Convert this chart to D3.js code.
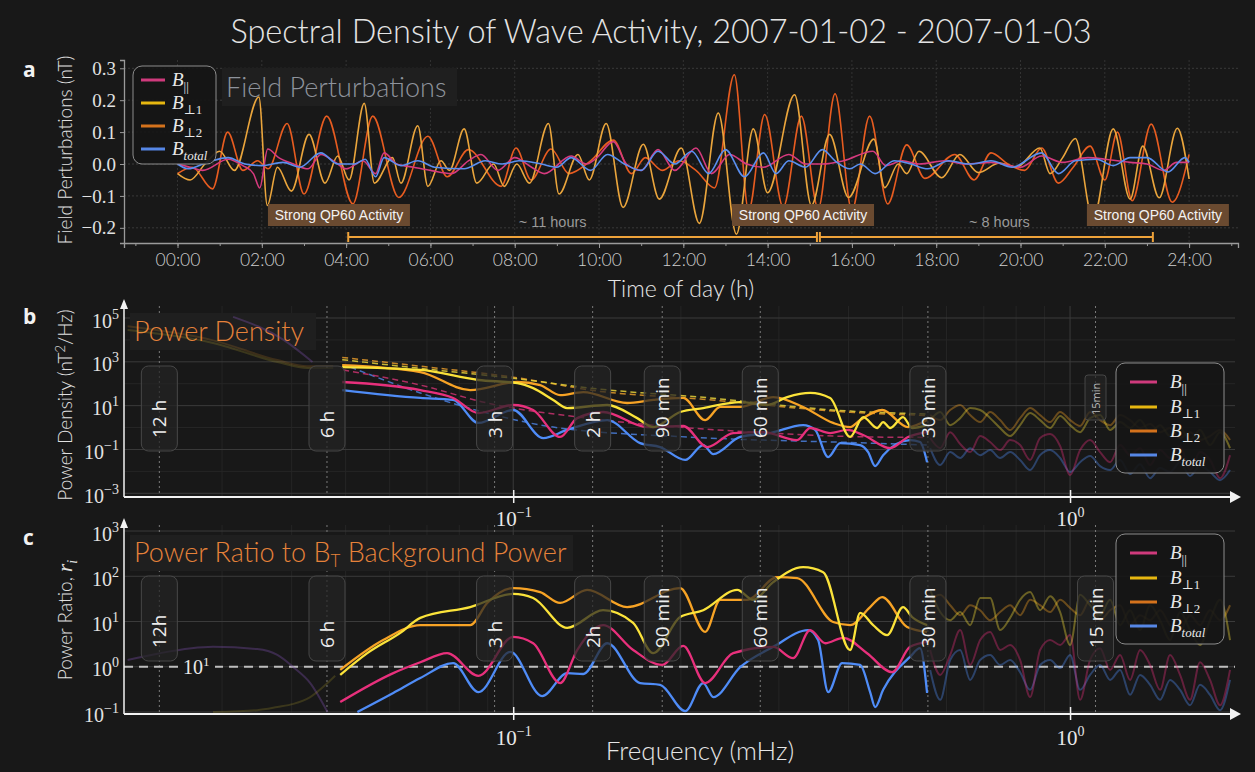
<!DOCTYPE html>
<html>
<head>
<meta charset="utf-8">
<script src="https://cdn.jsdelivr.net/npm/d3@7"></script>
<style>
  html, body { margin: 0; background: #181818; }
  svg { display: block; }
</style>
</head>
<body>
<svg id="chart" width="1255" height="772"></svg>
<script>
// ---------------- data ----------------
const titleText = "Spectral Density of Wave Activity, 2007-01-02 - 2007-01-03";
const seriesNames = ["par", "perp1", "perp2", "total"];

// Panel a: field perturbations (nT) vs hour of day, [hour, value]
const parTS = [[0,0.0],[0.3,-0.01],[0.6,-0.02],[1.2,0.015],[1.55,-0.005],[1.8,-0.03],[1.95,-0.075],[2.14,0.047],[2.4,0.02],[2.75,0.0],[3.1,-0.015],[3.4,0.03],[3.75,0.005],[4.0,-0.015],[4.4,0.01],[4.7,-0.03],[4.9,0.035],[5.2,0.0],[5.6,-0.01],[6.0,-0.02],[6.5,-0.03],[6.9,0.01],[7.2,0.03],[7.6,-0.02],[8.0,0.02],[8.4,-0.01],[8.7,-0.03],[9.34,0.025],[9.7,0.0],[9.95,0.02],[10.34,0.07],[10.65,0.0],[11.0,-0.02],[11.4,0.045],[11.8,-0.02],[12.3,0.05],[12.67,-0.03],[13.1,0.03],[13.5,0.0],[13.9,-0.01],[14.5,0.03],[14.9,0.0],[15.3,0.0],[15.8,0.01],[16.5,0.04],[16.8,-0.005],[17.2,0.01],[17.6,0.0],[18.2,0.01],[18.7,0.0],[19.3,0.005],[20.0,-0.01],[20.5,0.025],[21.0,0.005],[21.6,0.02],[22.0,0.015],[22.6,0.005],[23.0,0.0],[23.4,-0.02],[23.7,0.005],[24.0,0.005]];
const perp1TS = [[0,-0.03],[0.3,-0.05],[0.65,0.0],[1.0,0.04],[1.35,-0.02],[1.93,0.21],[2.13,-0.13],[2.37,-0.01],[2.7,-0.085],[3.12,0.093],[3.5,-0.06],[3.8,0.025],[4.07,-0.05],[4.43,0.19],[4.67,-0.06],[5.1,0.02],[5.3,-0.06],[5.7,0.12],[5.94,-0.07],[6.25,0.01],[6.45,-0.02],[6.8,0.11],[7.1,-0.06],[7.5,0.0],[7.75,-0.07],[8.05,0.0],[8.35,-0.06],[8.8,0.127],[9.05,-0.094],[9.5,0.03],[9.77,-0.05],[10.17,0.127],[10.57,-0.136],[11.05,0.062],[11.43,-0.11],[11.95,0.05],[12.38,-0.186],[12.83,0.16],[13.26,-0.22],[13.66,0.11],[14.0,-0.09],[14.64,0.217],[15.04,-0.13],[15.47,0.093],[15.92,-0.105],[16.52,0.078],[16.78,-0.074],[17.1,0.0],[17.3,-0.03],[17.59,0.04],[18.13,-0.043],[18.56,0.03],[19.0,-0.027],[19.5,0.003],[19.9,-0.01],[20.46,0.05],[20.7,-0.03],[21.0,0.02],[21.3,0.08],[21.72,-0.174],[22.2,0.11],[22.6,-0.11],[22.9,0.056],[23.29,-0.106],[23.72,0.112],[24.0,-0.047]];
const perp2TS = [[0,-0.03],[0.35,-0.01],[0.83,-0.078],[1.19,0.1],[1.55,-0.02],[1.9,0.01],[2.15,-0.015],[2.6,0.127],[3.0,-0.094],[3.54,0.15],[4.16,-0.125],[4.63,0.15],[5.25,-0.105],[5.94,0.087],[6.4,-0.04],[6.9,0.045],[7.68,-0.07],[8.03,0.05],[8.39,-0.05],[8.86,0.047],[9.29,-0.03],[9.8,0.01],[10.34,0.075],[10.77,-0.03],[11.1,0.02],[11.5,-0.02],[11.9,0.01],[12.3,-0.02],[12.74,-0.075],[13.21,0.28],[13.55,-0.145],[13.93,0.155],[14.37,-0.135],[14.8,0.15],[15.2,-0.14],[15.6,0.22],[16.0,-0.145],[16.42,0.15],[16.85,-0.125],[17.3,0.06],[17.73,-0.045],[18.44,0.03],[18.9,-0.05],[19.3,0.035],[19.7,0.0],[20.1,-0.02],[20.5,0.05],[20.9,-0.06],[21.25,-0.01],[21.65,0.056],[22.0,-0.05],[22.3,0.1],[22.65,-0.115],[23.1,0.125],[23.6,-0.12],[24.0,0.03]];
const totalTS = [[0,0.0],[0.25,-0.015],[0.7,0.005],[1.2,0.02],[1.6,0.0],[2.0,-0.005],[2.5,0.005],[2.9,-0.01],[3.4,0.035],[3.8,0.0],[4.2,0.0],[4.45,0.015],[4.7,-0.04],[4.9,0.02],[5.3,-0.005],[5.7,0.01],[6.1,-0.01],[6.8,-0.015],[7.3,0.01],[7.7,0.0],[8.1,0.01],[8.63,0.0],[9.0,-0.01],[9.34,0.02],[9.8,-0.02],[10.2,0.03],[10.6,0.0],[11.0,-0.02],[11.4,0.04],[11.8,0.0],[12.2,0.04],[12.6,-0.03],[13.0,0.045],[13.45,-0.04],[13.9,0.035],[14.2,-0.03],[14.5,0.01],[14.9,-0.01],[15.3,0.045],[15.6,0.01],[15.95,-0.015],[16.2,0.0],[16.55,-0.03],[17.0,0.01],[17.4,0.0],[17.8,-0.015],[18.3,0.01],[18.8,0.0],[19.3,0.01],[19.8,-0.01],[20.5,0.035],[20.9,-0.03],[21.3,0.01],[21.8,0.015],[22.2,-0.005],[22.6,0.02],[23.0,0.02],[23.5,-0.025],[23.9,0.02],[24.0,0.005]];

const aYTicks = [-0.2, -0.1, 0.0, 0.1, 0.2, 0.3];
const aXTicks = [0, 2, 4, 6, 8, 10, 12, 14, 16, 18, 20, 22, 24];
// QP60 activity annotations (hours)
const qpBoxCenters = [3.83, 14.84, 23.26];
const spanBreaks = [4.05, 15.17, 15.24, 23.14];
const spanLabels = [{h: 8.9, text: "~ 11 hours"}, {h: 19.5, text: "~ 8 hours"}];

// Panel b: power density (nT^2/Hz), frequency in mHz, log10 power
const bParF   = [0.0493,0.0681,0.0780,0.0866,0.1000,0.1086,0.1214,0.1303,0.1450,0.1740,0.2020,0.2231,0.2483,0.2811,0.3235,0.3414,0.3708,0.3978,0.4250,0.4753,0.5118,0.5537];
const bParL   = [2.08,1.71,1.35,0.66,1.03,0.80,-0.43,0.43,0.71,0.02,0.07,-0.89,-0.25,-0.21,-0.57,-0.02,-0.25,-0.11,-0.34,-0.94,-0.43,-0.21];
const bPerp1F = [0.0493,0.0681,0.0866,0.1017,0.1086,0.1180,0.1250,0.1475,0.1670,0.1784,0.1994,0.2194,0.2556,0.2858,0.3104,0.3414,0.3708,0.4027,0.4250,0.4504,0.4617,0.4753,0.5013,0.5203,0.5537];
const bPerp1L = [2.76,2.63,2.17,2.03,1.80,1.26,0.89,1.03,0.43,0.02,0.71,0.89,1.16,1.03,1.39,1.58,1.35,-0.43,0.48,-0.02,0.25,-0.02,0.48,-0.02,0.11];
const bPerp2F = [0.0493,0.0681,0.0837,0.1017,0.1118,0.1214,0.1336,0.1602,0.1784,0.2020,0.2212,0.2353,0.2556,0.2930,0.3316,0.3754,0.4027,0.4198,0.4598,0.5118,0.5537];
const bPerp2L = [2.85,2.53,1.71,2.08,1.94,1.48,1.62,1.12,1.26,1.35,0.34,0.94,0.94,1.39,0.94,0.21,0.02,0.34,0.80,0.02,0.34];
const bTotF   = [0.0493,0.0681,0.0780,0.0866,0.1000,0.1132,0.1250,0.1475,0.1690,0.1836,0.2037,0.2194,0.2287,0.2556,0.2894,0.3316,0.3485,0.3678,0.3864,0.4198,0.4339,0.4467,0.4617,0.5160,0.5379,0.5537];
const bTotL   = [1.71,1.35,1.26,0.21,0.80,-0.48,-0.11,0.34,-0.71,-0.89,-1.48,-0.80,-1.21,-0.43,-0.25,0.11,-0.11,-1.35,-0.71,-0.80,-1.12,-1.76,-1.26,-0.57,-0.66,-1.58];

// Background power-law fits (dashed)
const fitPerpF = [0.0493,0.0681,0.1000,0.1433,0.2167,0.4027,0.5537];
const fitPerp1L = [3.10,2.70,2.25,1.75,1.39,0.75,0.62];
const fitPerp2L = [3.20,2.80,2.30,1.65,1.30,0.70,0.55];
const fitParF = [0.0495,0.0681,0.0898,0.1358,0.2697,0.4375,0.5537];
const fitParL = [2.63,1.94,1.12,0.43,-0.21,-0.43,-0.45];
const fitTotF = [0.0510,0.0681,0.0898,0.1180,0.2053,0.4375,0.5537];
const fitTotL = [2.76,1.58,0.66,0.02,-0.43,-0.71,-0.80];

// Out-of-band parts of the spectra (drawn faded)
const lowF_b = [0.0203,0.0289,0.0377,0.0427,0.0475];
const lowPerp1L_b = [4.45,3.86,2.99,2.72,2.72];
const lowPerp2L_b = [4.62,3.98,3.08,2.80,2.80];
const lowParF_b = [0.0314,0.0387,0.0436];
const lowParL_b = [5.05,4.00,2.99];

const highF = [0.5608,0.5845,0.6091,0.6348,0.6616,0.6895,0.7186,0.7489,0.7805,0.8134,0.8477,0.8835,0.9208,0.9597,1.0002,1.0424,1.0864,1.1322,1.1800,1.2298,1.2817,1.3358,1.3922,1.4510,1.5122,1.5760,1.6425,1.7118,1.7840,1.8593,1.9378];
const highPerp1L_b = [0.34,0.71,0.11,0.43,0.89,0.80,0.43,-0.02,-0.39,0.11,0.66,0.34,-0.02,0.53,0.11,-0.21,0.43,0.57,-0.11,0.25,-0.02,0.34,-0.21,0.11,-0.39,-0.02,-0.57,-0.11,-0.80,-0.21,-0.94];
const highPerp2L_b = [0.57,0.34,0.80,1.03,0.57,0.25,0.71,0.34,-0.11,0.43,0.89,0.57,0.25,0.71,0.34,0.07,0.71,0.34,0.11,0.57,0.34,-0.02,0.16,-0.21,-0.02,-0.48,-0.21,-0.57,-0.39,-0.11,-0.57];
const highParL_b   = [-0.48,-0.94,-0.21,-0.75,-1.12,-0.39,-0.66,-1.03,-0.57,-0.80,-1.48,-0.48,-0.30,-0.84,-2.17,-1.03,-0.57,-1.12,-1.58,-0.80,-1.26,-0.94,-1.71,-1.03,-1.39,-0.84,-1.94,-1.12,-1.48,-2.31,-1.26];
const highTotL_b   = [-0.94,-1.71,-1.12,-1.39,-0.94,-1.26,-1.03,-1.39,-1.12,-1.48,-1.94,-1.26,-1.03,-1.39,-2.03,-1.58,-1.30,-1.76,-1.94,-1.48,-2.12,-1.67,-2.31,-1.85,-2.03,-1.58,-2.21,-1.76,-2.03,-2.40,-1.94];

// Panel c: power ratio to B_T background, log10 ratio
const cParF   = [0.0489,0.0609,0.0681,0.0761,0.0866,0.1000,0.1086,0.1214,0.1303,0.1450,0.1642,0.1851,0.2020,0.2212,0.2483,0.2930,0.3182,0.3414,0.3633,0.3913,0.4320,0.4792,0.5160,0.5537];
const cParL   = [-0.78,-0.14,0.10,0.30,-0.20,0.66,0.52,-0.36,0.37,0.92,0.37,0.04,0.46,-0.36,0.30,0.44,0.19,0.81,0.52,0.64,0.30,-0.12,0.44,0.55];
const cPerp1F = [0.0489,0.0547,0.0627,0.0681,0.0837,0.1000,0.1086,0.1250,0.1450,0.1642,0.1784,0.1994,0.2194,0.2525,0.2697,0.2930,0.3316,0.3603,0.4027,0.4198,0.4430,0.4694,0.5013,0.5203,0.5537];
const cPerp1L = [-0.18,0.30,0.75,1.08,1.32,1.61,1.52,0.86,1.25,0.97,0.30,1.10,1.25,1.70,1.48,1.87,2.20,2.09,0.37,1.19,0.92,0.70,1.32,1.10,0.92];
const cPerp2F = [0.0489,0.0584,0.0681,0.0837,0.0898,0.1000,0.1118,0.1214,0.1358,0.1602,0.1994,0.2212,0.2353,0.2631,0.2979,0.3235,0.3754,0.4027,0.4375,0.4598,0.5097,0.5537];
const cPerp2L = [-0.07,0.59,0.92,0.92,1.41,1.74,1.65,1.41,1.70,1.32,1.74,0.77,1.48,1.48,1.98,1.96,0.99,0.92,1.32,1.54,0.88,0.77];
const cTotF   = [0.0525,0.0609,0.0681,0.0780,0.0866,0.0988,0.1127,0.1250,0.1336,0.1475,0.1690,0.1836,0.2037,0.2194,0.2287,0.2556,0.2930,0.3386,0.3528,0.3678,0.3896,0.4198,0.4375,0.4467,0.4617,0.5160,0.5379,0.5537];
const cTotL   = [-1.0,-0.58,-0.25,0.08,-0.56,0.33,-0.65,-0.14,-0.16,0.52,-0.36,-0.40,-0.98,-0.36,-0.67,-0.01,0.44,0.81,0.59,-0.56,0.08,0.04,-0.56,-0.89,-0.51,0.22,0.41,-0.58];

const lowParF_c = [0.0203,0.0232,0.0289,0.0347,0.0377,0.0403,0.0432,0.0464];
const lowParL_c = [0.15,0.30,0.44,0.39,0.26,-0.01,-0.36,-1.0];
const lowPerpF_c = [0.0289,0.0347,0.0377,0.0403,0.0432,0.0464,0.0479];
const lowPerpL_c = [-1.0,-0.96,-0.89,-0.82,-0.67,-0.36,-0.20];

const highPerp1L_c = [1.70,1.21,1.03,1.21,0.92,1.52,1.52,0.81,1.08,1.48,1.65,1.25,1.56,1.21,0.48,1.59,1.36,1.14,1.48,0.92,1.25,0.81,1.36,1.03,0.59,1.21,0.81,0.48,1.03,1.48,0.59];
const highPerp2L_c = [1.48,1.59,1.36,1.14,1.36,1.25,1.03,1.21,1.36,1.14,1.48,1.36,1.21,1.48,1.30,1.14,1.48,1.03,1.25,1.36,0.92,1.14,1.03,1.25,0.92,0.81,1.14,0.92,1.25,1.03,1.36];
const highParL_c   = [0.37,-0.18,0.26,0.81,0.04,0.59,0.77,0.37,0.48,0.15,-0.67,0.37,0.59,0.48,0.70,-0.73,0.15,0.41,-0.07,0.26,-0.29,0.37,0.04,-0.51,0.26,-0.18,-0.73,0.10,-0.29,-0.85,-0.07];
const highTotL_c   = [-0.07,-0.73,0.15,0.37,-0.29,0.15,0.26,0.04,0.15,-0.12,-0.51,0.04,0.15,-0.03,0.26,-0.51,-0.18,0.04,-0.29,-0.07,-0.62,-0.18,-0.40,-0.73,-0.29,-0.51,-0.85,-0.40,-0.62,-0.96,-0.29];

// Reference periods (minutes) marked on the spectra
const periodMinutes = [720, 360, 180, 120, 90, 60, 30, 15];
const periodLabelsB = ["12 h", "6 h", "3 h", "2 h", "90 min", "60 min", "30 min", "15min"];
const periodLabelsC = ["12h", "6 h", "3 h", "2h", "90 min", "60 min", "30 min", "15 min"];
const bYTicks = [1e5, 1e3, 1e1, 1e-1, 1e-3];
const cYTicks = [1e3, 1e2, 1e1, 1e0, 1e-1];
const freqTicks = [0.1, 1];

// ---------------- styling ----------------
const SANS = "Lato, 'Open Sans', 'DejaVu Sans', sans-serif";
const SANS2 = "'Liberation Sans', Arimo, 'DejaVu Sans', sans-serif";
const SERIF = "'Liberation Serif', 'DejaVu Serif', serif";
const colA = {par: "#d63a7e", perp1: "#eaa53c", perp2: "#e75c20", total: "#5a8ff0"};
const colS = {par: "#e8307c", perp1: "#fbe33a", perp2: "#f7a325", total: "#4f8cf7"};
const colLeg = {par: "#cf3a7c", perp1: "#e6b710", perp2: "#d4721c", total: "#5687e6"};
const subText = {par: "||", perp1: "⊥1", perp2: "⊥2", total: "total"};

const svg = d3.select("#chart");
svg.append("rect").attr("width", 1255).attr("height", 772).attr("fill", "#181818");
const defs = svg.append("defs");

svg.append("text").attr("x", 661).attr("y", 43).attr("text-anchor", "middle")
  .attr("font-family", SANS).attr("font-weight", 300).attr("font-size", 32.5)
  .attr("fill", "#e4e4e4").text(titleText);

function panelLetter(t, y) {
  svg.append("text").attr("x", 23).attr("y", y).attr("font-family", "'Open Sans', " + SANS)
    .attr("font-weight", 700).attr("font-size", 21).attr("fill", "#f2f2f2").text(t);
}
panelLetter("a", 77); panelLetter("b", 324); panelLetter("c", 545);

function legendLabel(t, key, size) {
  t.append("tspan").attr("font-style", "italic").text("B");
  t.append("tspan").attr("font-size", size * 0.68).attr("dy", size * 0.28)
    .attr("font-style", key === "total" ? "italic" : "normal").text(subText[key]);
}

function drawLegend(x, y, w, h, rows, lx1, lx2, tx, colors, size) {
  const g = svg.append("g");
  g.append("rect").attr("x", x).attr("y", y).attr("width", w).attr("height", h).attr("rx", 9)
    .attr("fill", "#161616").attr("fill-opacity", 0.92).attr("stroke", "#8c8c8c").attr("stroke-width", 1);
  seriesNames.forEach((k, i) => {
    g.append("line").attr("x1", lx1).attr("x2", lx2).attr("y1", rows[i]).attr("y2", rows[i])
      .attr("stroke", colors[k]).attr("stroke-width", 3);
    const t = g.append("text").attr("x", tx).attr("y", rows[i] + size * 0.3)
      .attr("font-family", SERIF).attr("font-size", size).attr("fill", "#e8e8e8");
    legendLabel(t, k, size);
  });
}

function titleBox(parent, x, y, w, h, color, build) {
  parent.append("rect").attr("x", x).attr("y", y).attr("width", w).attr("height", h).attr("fill", "#1f1f1f");
  const t = parent.append("text").attr("x", x + 4).attr("y", y + h - 9)
    .attr("font-family", SANS).attr("font-weight", 300).attr("font-size", 27).attr("fill", color);
  build(t);
}

// ---------------- panel a ----------------
const xA = d3.scaleLinear().domain([-1.27, 25.16]).range([124, 1238]);
const yA = d3.scaleLinear().domain([-0.2476, 0.326]).range([243, 60]);

const gA = svg.append("g");
// grid
gA.selectAll(".hg").data(aYTicks).join("line")
  .attr("x1", 124).attr("x2", 1238).attr("y1", d => yA(d)).attr("y2", d => yA(d))
  .attr("stroke", "#3a3a3a").attr("stroke-dasharray", "2,2");
gA.selectAll(".vg").data(aXTicks).join("line")
  .attr("x1", d => xA(d)).attr("x2", d => xA(d)).attr("y1", 60).attr("y2", 243)
  .attr("stroke", "#333").attr("stroke-dasharray", "2,2");

// panel title sits under the traces
titleBox(gA, 222, 68, 235, 38, "#8e939c", t => t.text("Field Perturbations"));

defs.append("clipPath").attr("id", "clipA").append("rect")
  .attr("x", 124).attr("y", 60).attr("width", 1114).attr("height", 183);

const lineA = d3.line().x(d => xA(d[0])).y(d => yA(d[1])).curve(d3.curveMonotoneX);
const tsData = {par: parTS, perp1: perp1TS, perp2: perp2TS, total: totalTS};
const gLinesA = gA.append("g").attr("clip-path", "url(#clipA)");
["perp2", "perp1", "par", "total"].forEach(k => {
  gLinesA.append("path").attr("d", lineA(tsData[k])).attr("fill", "none")
    .attr("stroke", colA[k]).attr("stroke-width", 1.6).attr("stroke-linejoin", "round");
});

// axes
const axA_y = gA.append("g").attr("transform", "translate(124,0)")
  .call(d3.axisLeft(yA).tickValues(aYTicks).tickFormat(d3.format(".1f")).tickSize(4).tickPadding(4));
const axA_x = gA.append("g").attr("transform", "translate(0,243)")
  .call(d3.axisBottom(xA).tickValues(aXTicks).tickFormat(h => String(h).padStart(2, "0") + ":00").tickSize(5).tickPadding(6));
gA.append("g").attr("transform", "translate(0,243)")
  .call(d3.axisBottom(xA).tickValues(d3.range(-1, 26)).tickFormat("").tickSize(3))
  .call(g => g.select(".domain").remove());
[axA_y, axA_x].forEach(ax => {
  ax.select(".domain").attr("stroke", "#9a9a9a").attr("stroke-width", 1.3);
});
gA.selectAll(".tick line").attr("stroke", "#9a9a9a");
axA_y.selectAll("text").attr("font-family", SERIF).attr("font-size", 19).attr("fill", "#e2e2e2");
axA_x.selectAll("text").attr("font-family", SANS).attr("font-weight", 300).attr("font-size", 17.5).attr("fill", "#cfcfcf");

svg.append("text").attr("transform", "translate(72,150) rotate(-90)").attr("text-anchor", "middle")
  .attr("font-family", SANS).attr("font-weight", 300).attr("font-size", 19).attr("fill", "#e0e0e0")
  .text("Field Perturbations (nT)");
svg.append("text").attr("x", 681).attr("y", 297).attr("text-anchor", "middle")
  .attr("font-family", SANS).attr("font-weight", 300).attr("font-size", 23).attr("fill", "#e6e6e6")
  .text("Time of day (h)");

drawLegend(133, 66, 83, 98, [80, 103, 126, 149], 141, 165, 172, colLeg, 19);

// QP60 annotations
qpBoxCenters.forEach(h => {
  const cx = xA(h);
  svg.append("rect").attr("x", cx - 71).attr("y", 204).attr("width", 142).attr("height", 22)
    .attr("fill", "#6a4a30");
  svg.append("text").attr("x", cx).attr("y", 220).attr("text-anchor", "middle")
    .attr("font-family", SANS2).attr("font-size", 14).attr("fill", "#f3f3f3").text("Strong QP60 Activity");
});
const bracketColor = "#eea23a";
[[spanBreaks[0], spanBreaks[1]], [spanBreaks[2], spanBreaks[3]]].forEach(([a, b]) => {
  svg.append("line").attr("x1", xA(a)).attr("x2", xA(b)).attr("y1", 237).attr("y2", 237)
    .attr("stroke", bracketColor).attr("stroke-width", 2);
  [a, b].forEach(h => svg.append("line").attr("x1", xA(h)).attr("x2", xA(h)).attr("y1", 232).attr("y2", 242)
    .attr("stroke", bracketColor).attr("stroke-width", 2));
});
spanLabels.forEach(s => {
  svg.append("text").attr("x", xA(s.h)).attr("y", 227).attr("text-anchor", "middle")
    .attr("font-family", SANS2).attr("font-size", 14.5).attr("fill", "#9a9a9a").text(s.text);
});

// ---------------- spectral panels ----------------
const xF = d3.scaleLog().domain([0.02, 1.978]).range([124, 1235]);

function powLabel(sel, d) {
  const e = Math.round(Math.log10(d));
  sel.text(null);
  sel.append("tspan").text("10");
  sel.append("tspan").attr("dy", -9).attr("font-size", 14).text(e < 0 ? "−" + (-e) : String(e));
}

function zipLog(f, l) { return f.map((v, i) => [v, Math.pow(10, l[i])]); }

function spectralPanel(cfg) {
  const {y, top, bottom, id} = cfg;
  const g = svg.append("g");
  // minor grid
  const minorF = [];
  [0.01, 0.1, 1].forEach(dec => { for (let m = 2; m <= 9; m++) minorF.push(dec * m); });
  g.selectAll(".mv").data(minorF.filter(f => f > 0.02 && f < 1.978)).join("line")
    .attr("x1", d => xF(d)).attr("x2", d => xF(d)).attr("y1", top).attr("y2", bottom)
    .attr("stroke", "#252525");
  g.selectAll(".mh").data(cfg.minorY).join("line")
    .attr("x1", 124).attr("x2", 1235).attr("y1", d => y(d)).attr("y2", d => y(d))
    .attr("stroke", "#262626");
  // major grid
  g.selectAll(".hv").data(freqTicks).join("line")
    .attr("x1", d => xF(d)).attr("x2", d => xF(d)).attr("y1", top).attr("y2", bottom)
    .attr("stroke", "#3b3b3b");
  g.selectAll(".hh").data(cfg.yTicks).join("line")
    .attr("x1", 124).attr("x2", 1235).attr("y1", d => y(d)).attr("y2", d => y(d))
    .attr("stroke", "#3b3b3b");
  // period reference lines
  g.selectAll(".pl").data(periodMinutes).join("line")
    .attr("x1", d => xF(1000 / (d * 60))).attr("x2", d => xF(1000 / (d * 60)))
    .attr("y1", top).attr("y2", bottom).attr("stroke", "#7a7a7a").attr("stroke-dasharray", "2,3");

  if (cfg.title) cfg.title(g);

  defs.append("clipPath").attr("id", id).append("rect")
    .attr("x", 124).attr("y", top).attr("width", 1111).attr("height", bottom - top);
  const gl = g.append("g").attr("clip-path", `url(#${id})`);
  const line = d3.line().x(d => xF(d[0])).y(d => y(d[1])).curve(d3.curveMonotoneX);

  if (cfg.extra) cfg.extra(gl, line);
  // faded out-of-band segments
  cfg.faded.forEach(s => {
    gl.append("path").attr("d", line(s.data)).attr("fill", "none").attr("stroke", s.color)
      .attr("stroke-width", 2).attr("stroke-opacity", s.op || 0.36);
  });
  // dashed background fits
  (cfg.fits || []).forEach(s => {
    gl.append("path").attr("d", line(s.data)).attr("fill", "none").attr("stroke", s.color)
      .attr("stroke-width", 1.5).attr("stroke-dasharray", "6,4").attr("stroke-opacity", 0.85);
  });
  // in-band spectra
  cfg.solid.forEach(s => {
    gl.append("path").attr("d", line(s.data)).attr("fill", "none").attr("stroke", s.color)
      .attr("stroke-width", 2.3).attr("stroke-linejoin", "round");
  });

  // period label boxes
  periodMinutes.forEach((m, i) => {
    const cx = xF(1000 / (m * 60));
    const small = cfg.smallLast && i === periodMinutes.length - 1;
    const bw = small ? 21 : 36, bh = small ? 45 : 85;
    const by = small ? cfg.boxTop + 9 : cfg.boxTop;
    g.append("rect").attr("x", cx - bw / 2).attr("y", by).attr("width", bw).attr("height", bh).attr("rx", small ? 3 : 7)
      .attr("fill", "#242424").attr("fill-opacity", 0.72).attr("stroke", "#474747");
    g.append("text").attr("transform", `translate(${cx},${by + bh - (small ? 5 : 13)}) rotate(-90)`)
      .attr("dominant-baseline", "central")
      .attr("font-family", "'Open Sans', " + SANS).attr("font-weight", 500)
      .attr("font-size", small ? 11 : 19).attr("fill", small ? "#bdbdbd" : "#ececec")
      .text(cfg.labels[i]);
  });

  // axes
  g.append("line").attr("x1", 124).attr("x2", 1230).attr("y1", bottom).attr("y2", bottom)
    .attr("stroke", "#f2f2f2").attr("stroke-width", 2);
  g.append("path").attr("d", `M1230,${bottom - 6}L1241,${bottom}L1230,${bottom + 6}Z`).attr("fill", "#f2f2f2");
  g.append("line").attr("x1", 124).attr("x2", 124).attr("y1", bottom).attr("y2", top - 3)
    .attr("stroke", "#f2f2f2").attr("stroke-width", 1.5);
  g.append("path").attr("d", `M120,${top + 3}L124,${top - 7}L128,${top + 3}Z`).attr("fill", "#f2f2f2");

  const ay = g.append("g").attr("transform", "translate(124,0)")
    .call(d3.axisLeft(y).tickValues(cfg.yTicks).tickSize(0).tickPadding(5));
  ay.select(".domain").remove();
  ay.selectAll("text").attr("font-family", SERIF).attr("font-size", 20).attr("fill", "#e2e2e2")
    .attr("dy", "0.45em").each(function (d) { powLabel(d3.select(this), d); });

  const ax = g.append("g").attr("transform", `translate(0,${bottom})`)
    .call(d3.axisBottom(xF).tickValues(freqTicks).tickSizeInner(6).tickSizeOuter(0).tickPadding(cfg.xPad));
  ax.select(".domain").remove();
  ax.selectAll(".tick line").attr("stroke", "#f2f2f2").attr("stroke-width", 1.5).attr("y1", -7);
  ax.selectAll("text").attr("font-family", SERIF).attr("font-size", 21).attr("fill", "#e8e8e8")
    .each(function (d) { powLabel(d3.select(this), d); });
  return g;
}

// panel b
const yB = d3.scaleLog().domain([Math.pow(10, -3.17), Math.pow(10, 5.548)]).range([497, 306]);
spectralPanel({
  id: "clipB", y: yB, top: 306, bottom: 497, yTicks: bYTicks,
  minorY: [1e4, 1e2, 1e0, 1e-2], boxTop: 366, labels: periodLabelsB, smallLast: true, xPad: 8,
  title: g => titleBox(g, 130, 313, 186, 37, "#e6823a", t => t.text("Power Density")),
  faded: [
    {data: zipLog(lowF_b, lowPerp2L_b), color: colS.perp2, op: 0.16},
    {data: zipLog(lowF_b, lowPerp1L_b), color: "#c9b22c", op: 0.2},
    {data: zipLog(lowParF_b, lowParL_b), color: "#7f4fb0", op: 0.35},
    {data: zipLog(highF, highTotL_b), color: colS.total},
    {data: zipLog(highF, highParL_b), color: colS.par},
    {data: zipLog(highF, highPerp2L_b), color: colS.perp2},
    {data: zipLog(highF, highPerp1L_b), color: colS.perp1}
  ],
  fits: [
    {data: zipLog(fitTotF, fitTotL), color: "#4a7fdc"},
    {data: zipLog(fitParF, fitParL), color: "#c8326f"},
    {data: zipLog(fitPerpF, fitPerp2L), color: "#e49a2a"},
    {data: zipLog(fitPerpF, fitPerp1L), color: "#e8d23a"}
  ],
  solid: [
    {data: zipLog(bTotF, bTotL), color: colS.total},
    {data: zipLog(bParF, bParL), color: colS.par},
    {data: zipLog(bPerp2F, bPerp2L), color: colS.perp2},
    {data: zipLog(bPerp1F, bPerp1L), color: colS.perp1}
  ]
});
drawLegend(1116, 363, 108, 110, [382, 407, 431, 455], 1130, 1157, 1170, colLeg, 19);
const lblB = svg.append("text").attr("transform", "translate(72,405) rotate(-90)").attr("text-anchor", "middle")
  .attr("font-family", SANS).attr("font-weight", 300).attr("font-size", 19).attr("fill", "#e0e0e0");
lblB.append("tspan").text("Power Density (nT");
lblB.append("tspan").attr("dy", -7).attr("font-size", 13).text("2");
lblB.append("tspan").attr("dy", 7).text("/Hz)");

// panel c
const yC = d3.scaleLog().domain([Math.pow(10, -1.044), Math.pow(10, 3.133)]).range([714, 525]);
spectralPanel({
  id: "clipC", y: yC, top: 525, bottom: 714, yTicks: cYTicks,
  minorY: [], boxTop: 576, labels: periodLabelsC, smallLast: false, xPad: 10,
  title: g => titleBox(g, 130, 535, 443, 36, "#e6823a", t => {
    t.append("tspan").text("Power Ratio to B");
    t.append("tspan").attr("font-size", 17).attr("dy", 5).text("T");
    t.append("tspan").attr("dy", -5).text(" Background Power");
  }),
  extra: (gl) => {
    gl.append("line").attr("x1", 124).attr("x2", 1235).attr("y1", yC(1)).attr("y2", yC(1))
      .attr("stroke", "#bdbdbd").attr("stroke-width", 2).attr("stroke-dasharray", "9,6");
  },
  faded: [
    {data: zipLog(lowParF_c, lowParL_c), color: "#7f4fb0", op: 0.35},
    {data: zipLog(lowPerpF_c, lowPerpL_c), color: "#c9b22c", op: 0.2},
    {data: zipLog(highF, highTotL_c), color: colS.total},
    {data: zipLog(highF, highParL_c), color: colS.par},
    {data: zipLog(highF, highPerp2L_c), color: colS.perp2},
    {data: zipLog(highF, highPerp1L_c), color: colS.perp1}
  ],
  solid: [
    {data: zipLog(cTotF, cTotL), color: colS.total},
    {data: zipLog(cParF, cParL), color: colS.par},
    {data: zipLog(cPerp2F, cPerp2L), color: colS.perp2},
    {data: zipLog(cPerp1F, cPerp1L), color: colS.perp1}
  ]
});
// label on the unit-ratio line
svg.append("rect").attr("x", 178).attr("y", 652).attr("width", 37).attr("height", 26).attr("fill", "#181818");
const lbl10 = svg.append("text").attr("x", 183).attr("y", 674).attr("font-family", SERIF)
  .attr("font-size", 20).attr("fill", "#e8e8e8");
lbl10.append("tspan").text("10");
lbl10.append("tspan").attr("dy", -8).attr("font-size", 13).text("1");

drawLegend(1116, 534, 108, 110, [553, 578, 602, 626], 1130, 1157, 1170, colLeg, 19);
const lblC = svg.append("text").attr("transform", "translate(72,620) rotate(-90)").attr("text-anchor", "middle")
  .attr("font-family", SANS).attr("font-weight", 300).attr("font-size", 19).attr("fill", "#e0e0e0");
lblC.append("tspan").text("Power Ratio, ");
lblC.append("tspan").attr("font-family", SERIF).attr("font-style", "italic").attr("font-size", 21).text("r");
lblC.append("tspan").attr("font-family", SERIF).attr("font-style", "italic").attr("font-size", 14).attr("dy", 5).text("i");

svg.append("text").attr("x", 700).attr("y", 760).attr("text-anchor", "middle")
  .attr("font-family", SANS).attr("font-weight", 300).attr("font-size", 26).attr("fill", "#e6e6e6")
  .text("Frequency (mHz)");
</script>
</body>
</html>
